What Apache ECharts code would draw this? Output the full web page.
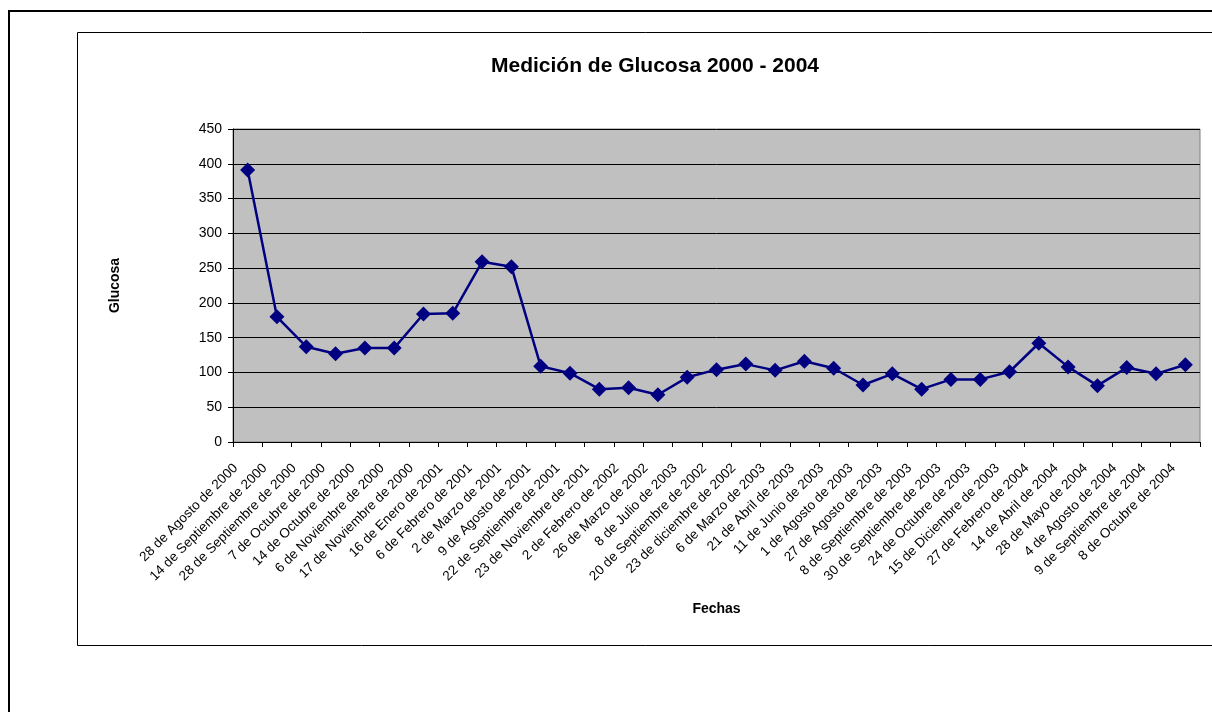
<!DOCTYPE html>
<html>
<head>
<meta charset="utf-8">
<script src="https://cdn.jsdelivr.net/npm/echarts@6/dist/echarts.min.js"></script>
<style>
  html, body { margin: 0; padding: 0; background: #fff; }
  #chart { width: 1212px; height: 712px; }
</style>
</head>
<body>
<div id="chart"></div>
<script>
// Fechas de cada medición
const fechas = [
  '28 de Agosto de 2000', '14 de Septiembre de 2000', '28 de Septiembre de 2000',
  '7 de Octubre de 2000', '14 de Octubre de 2000', '6 de Noviembre de 2000',
  '17 de Noviembre de 2000', '16 de Enero de 2001', '6 de Febrero de 2001',
  '2 de Marzo de 2001', '9 de Agosto de 2001', '22 de Septiembre de 2001',
  '23 de Noviembre de 2001', '2 de Febrero de 2002', '26 de Marzo de 2002',
  '8 de Julio de 2003', '20 de Septiembre de 2002', '23 de diciembre de 2002',
  '6 de Marzo de 2003', '21 de Abril de 2003', '11 de Junio de 2003',
  '1 de Agosto de 2003', '27 de Agosto de 2003', '8 de Septiembre de 2003',
  '30 de Septiembre de 2003', '24 de Octubre de 2003', '15 de Diciembre de 2003',
  '27 de Febrero de 2004', '14 de Abril de 2004', '28 de Mayo de 2004',
  '4 de Agosto de 2004', '9 de Septiembre de 2004', '8 de Octubre de 2004'
];

// Valores de glucosa (mg/dl)
const glucosa = [
  391, 180, 137, 127, 135, 135, 184, 185, 259, 252,
  109, 99, 76, 78, 68, 93, 104, 112, 103, 116,
  106, 82, 98, 76, 90, 90, 101, 142, 108, 81,
  107, 98, 111
];

const yTicks = { min: 0, max: 450, interval: 50 };

const FONT = '"Liberation Sans", Arial, sans-serif';

const chart = echarts.init(document.getElementById('chart'));
chart.setOption({
  backgroundColor: '#ffffff',
  animation: false,
  graphic: [
    { type: 'rect', silent: true, z: -10,
      shape: { x: 9, y: 11, width: 1300, height: 800 },
      style: { fill: 'none', stroke: '#000', lineWidth: 2 } },
    { type: 'rect', silent: true, z: -10,
      shape: { x: 77.5, y: 32.5, width: 1300, height: 613 },
      style: { fill: 'none', stroke: '#000', lineWidth: 1 } }
  ],
  title: {
    text: 'Medición de Glucosa 2000 - 2004',
    left: 650,
    textAlign: 'center',
    top: 51,
    textStyle: { fontFamily: FONT, fontSize: 21, fontWeight: 'bold', color: '#000' }
  },
  grid: {
    left: 233, right: 12, top: 129, bottom: 270,
    show: true,
    backgroundColor: '#c0c0c0',
    borderColor: '#808080',
    borderWidth: 1
  },
  xAxis: {
    type: 'category',
    data: fechas,
    boundaryGap: true,
    name: 'Fechas',
    nameLocation: 'middle',
    nameGap: 160,
    nameTextStyle: { fontFamily: FONT, fontSize: 14, fontWeight: 'bold', color: '#000' },
    axisLine: { lineStyle: { color: '#000', width: 1 } },
    axisTick: { show: true, alignWithLabel: false, length: 5, lineStyle: { color: '#000' } },
    axisLabel: {
      interval: 0,
      rotate: 45,
      margin: 12,
      padding: [0, 17, 0, 0],
      fontFamily: FONT,
      fontSize: 13.5,
      color: '#000'
    },
    splitLine: { show: false }
  },
  yAxis: {
    type: 'value',
    min: yTicks.min,
    max: yTicks.max,
    interval: yTicks.interval,
    name: 'Glucosa',
    nameLocation: 'middle',
    nameRotate: 90,
    nameGap: 111,
    nameTextStyle: { fontFamily: FONT, fontSize: 14, fontWeight: 'bold', color: '#000' },
    axisLine: { show: true, lineStyle: { color: '#000', width: 1 } },
    axisTick: { show: true, length: 5, lineStyle: { color: '#000' } },
    axisLabel: { margin: 11, fontFamily: FONT, fontSize: 14, color: '#000' },
    splitLine: { show: true, lineStyle: { color: '#000', width: 1 } }
  },
  series: [{
    type: 'line',
    data: glucosa,
    symbol: 'diamond',
    symbolSize: 15,
    lineStyle: { color: '#000080', width: 2.5 },
    itemStyle: { color: '#000080' }
  }]
});
</script>
</body>
</html>
